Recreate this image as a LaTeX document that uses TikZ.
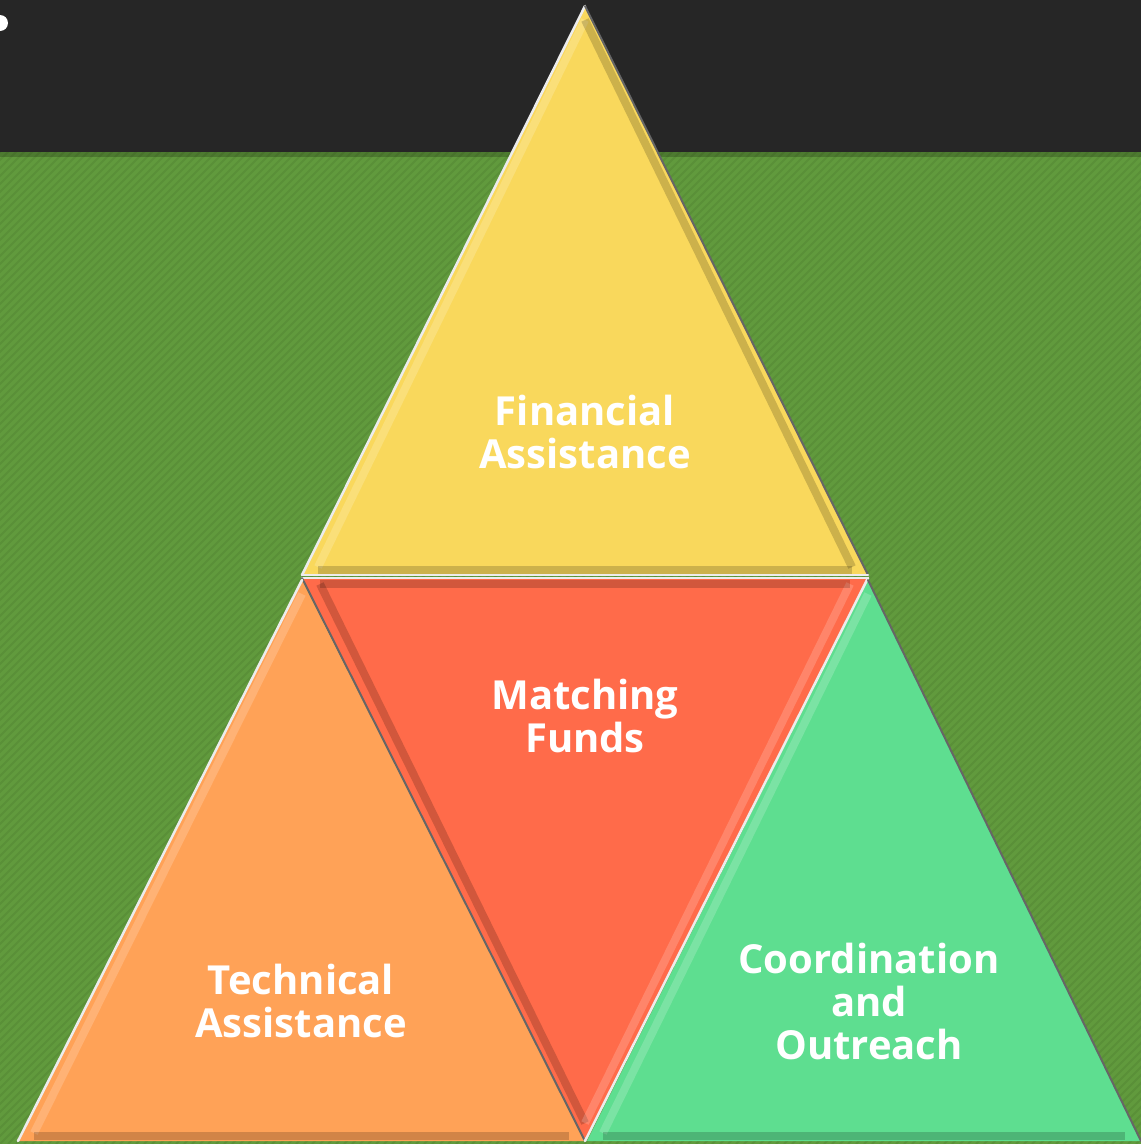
\documentclass[tikz,border=0pt]{standalone}
\usepackage{fontspec}
\setmainfont{Open Sans}
\usetikzlibrary{calc}
\definecolor{band}{HTML}{262626}
\definecolor{bg}{HTML}{619A3D}
\definecolor{stripe}{HTML}{5A9038}
\definecolor{yel}{HTML}{F9D85C}
\definecolor{redt}{HTML}{FF6B4A}
\definecolor{ora}{HTML}{FFA257}
\definecolor{grn}{HTML}{5EDE90}
\begin{document}
\begin{tikzpicture}[x=1pt,y=-1pt,
  lbl/.style={text=white,font=\bfseries\fontsize{40}{43}\selectfont,align=center},
  hi/.style={draw=white!85!gray,line width=2.5pt,line cap=round},
  lo/.style={draw=black!60,line width=2pt,line cap=round},
  shin/.style={line width=8pt,opacity=0.18}]
\useasboundingbox (0,0) rectangle (1141,1144);
% background
\fill[bg] (0,152) rectangle (1141,1144);
\begin{scope}
\clip (0,152) rectangle (1141,1144);
\foreach \i in {0,8,...,2300}{
  \draw[stripe,line width=2pt] (\i-1000,1144) -- (\i,144);
}
\end{scope}
\fill[band] (0,0) rectangle (1141,152);
\fill[black,opacity=0.2] (0,152) rectangle (1141,157);
\fill[white] (0,23) circle (8);
% vertices
\coordinate (ya) at (585,6);
\coordinate (yl) at (302,575);
\coordinate (yr) at (868,575);
\coordinate (rl) at (302,578);
\coordinate (rr) at (868,578);
\coordinate (rb) at (585,1141);
\coordinate (oa) at (302,580);
\coordinate (ol) at (18,1141);
\coordinate (or) at (585,1141);
\coordinate (ga) at (868,580);
\coordinate (gl) at (587,1141);
\coordinate (gr) at (1141,1141);
% triangles
\fill[yel] (ya) -- (yl) -- (yr) -- cycle;
\fill[redt] (rl) -- (rr) -- (rb) -- cycle;
\fill[ora] (oa) -- (ol) -- (or) -- cycle;
\fill[grn] (ga) -- (gl) -- (gr) -- cycle;
% bevel shading
\draw[shin,white] ($(ya)+(0,14)$) -- ($(yl)+(16,-8)$);
\draw[shin,black] ($(yl)+(16,-5)$) -- ($(yr)+(-16,-5)$);
\draw[shin,black] ($(ya)+(0,14)$) -- ($(yr)+(-16,-8)$);
\draw[shin,black] ($(rl)+(18,6)$) -- ($(rb)+(0,-18)$);
\draw[shin,white] ($(rr)+(-18,6)$) -- ($(rb)+(0,-18)$);
\draw[shin,black] ($(rl)+(18,6)$) -- ($(rr)+(-18,6)$);
\draw[shin,white] ($(oa)+(0,14)$) -- ($(ol)+(16,-8)$);
\draw[shin,black] ($(ol)+(16,-5)$) -- ($(or)+(-16,-5)$);
\draw[shin,white] ($(ga)+(0,14)$) -- ($(gl)+(16,-8)$);
\draw[shin,black] ($(gl)+(16,-5)$) -- ($(gr)+(-16,-5)$);
% edges
\draw[hi] (ya) -- (yl);
\draw[lo] (ya) -- (yr);
\draw[hi] (yl) -- (yr);
\draw[hi] (rl) -- (rr);
\draw[lo] (rl) -- (rb);
\draw[hi] (rr) -- (rb);
\draw[hi] (oa) -- (ol);
\draw[lo] (ga) -- (gr);
% labels
\node[lbl] (fa) at (585,432) {Financial\\Assistance};
\node[lbl] (mf) at (585,716) {Matching\\Funds};
\node[lbl] (ta) at (301,1001) {Technical\\Assistance};
\node[lbl] (co) at (869,1001) {Coordination\\and\\Outreach};
\end{tikzpicture}
\end{document}
